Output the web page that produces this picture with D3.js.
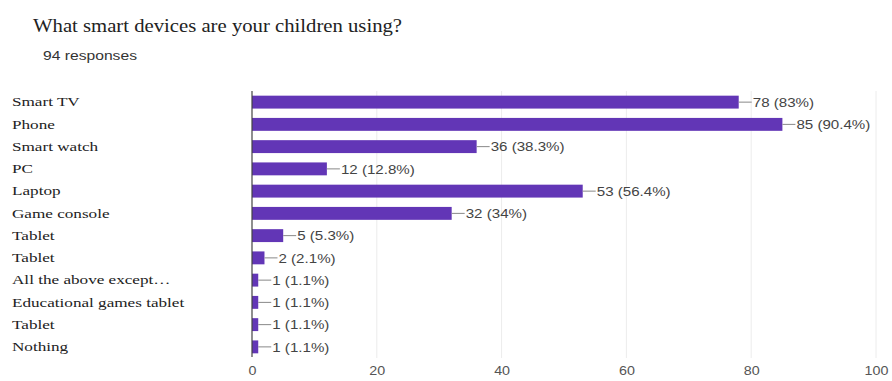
<!DOCTYPE html>
<html>
<head>
<meta charset="utf-8">
<script src="https://cdn.jsdelivr.net/npm/d3@7"></script>
<style>
  html, body { margin: 0; padding: 0; background: #fff; }
  svg { display: block; }
</style>
</head>
<body>
<svg id="chart" width="892" height="381"></svg>
<script>
// Survey answers: devices used by children
const categories = [
  "Smart TV", "Phone", "Smart watch", "PC", "Laptop", "Game console",
  "Tablet", "Tablet", "All the above except…", "Educational games tablet",
  "Tablet", "Nothing"
];
const counts = [78, 85, 36, 12, 53, 32, 5, 2, 1, 1, 1, 1];
const percents = ["83%", "90.4%", "38.3%", "12.8%", "56.4%", "34%", "5.3%", "2.1%", "1.1%", "1.1%", "1.1%", "1.1%"];
const xTicks = [0, 20, 40, 60, 80, 100];
const title = "What smart devices are your children using?";
const subtitle = "94 responses";

const svg = d3.select("#chart");
const margin = { top: 91, bottom: 358, left: 252, right: 876 };
const serif = "'Liberation Serif', 'Times New Roman', serif";
const sans = "'Liberation Sans', Arial, sans-serif";

const rows = categories.map((c, i) => ({ key: i, label: c, value: counts[i], pct: percents[i] }));

const x = d3.scaleLinear().domain([0, 100]).range([margin.left, margin.right]);
const y = d3.scaleBand().domain(rows.map(d => d.key))
  .range([margin.top, margin.bottom]).paddingInner(0.42).paddingOuter(0.21);

// Title and response count (type set slightly wide)
svg.append("text")
  .attr("transform", "translate(33,32) scale(1.12,1)")
  .attr("font-family", serif)
  .attr("font-size", 18.5).attr("fill", "#222")
  .text(title);
svg.append("text")
  .attr("transform", "translate(43,60) scale(1.16,1)")
  .attr("font-family", sans)
  .attr("font-size", 13.5).attr("fill", "#333")
  .text(subtitle);

// Vertical gridlines
svg.append("g").selectAll("line")
  .data(xTicks.filter(t => t > 0))
  .join("line")
  .attr("x1", d => x(d)).attr("x2", d => x(d))
  .attr("y1", margin.top).attr("y2", margin.bottom)
  .attr("stroke", "#ececec").attr("stroke-width", 1);

// X axis tick labels
const xAxis = d3.axisBottom(x).tickValues(xTicks).tickSize(0).tickPadding(0);
const gx = svg.append("g").attr("transform", "translate(0,366)").call(xAxis);
gx.select(".domain").remove();
gx.selectAll("text")
  .attr("font-family", sans)
  .attr("font-size", 13).attr("fill", "#555").attr("dy", "0.71em")
  .attr("transform", "scale(1.1,1)");

// Category labels
const yAxis = d3.axisLeft(y).tickFormat(k => rows[k].label).tickSize(0).tickPadding(0);
const gy = svg.append("g").attr("transform", "translate(12,0)").call(yAxis);
gy.select(".domain").remove();
gy.selectAll("text")
  .attr("x", 0)
  .attr("text-anchor", "start")
  .attr("font-family", serif)
  .attr("font-size", 13.5).attr("fill", "#222")
  .attr("transform", "scale(1.27,1)");

// Bars
svg.append("g").selectAll("rect")
  .data(rows)
  .join("rect")
  .attr("x", x(0))
  .attr("y", d => y(d.key))
  .attr("width", d => x(d.value) - x(0))
  .attr("height", y.bandwidth())
  .attr("fill", "#6236b6");

// Baseline axis
svg.append("line")
  .attr("x1", x(0)).attr("x2", x(0))
  .attr("y1", margin.top).attr("y2", margin.bottom - 1)
  .attr("stroke", "#444").attr("stroke-width", 1.2);

// Leader lines and value labels
const lab = svg.append("g").selectAll("g").data(rows).join("g")
  .attr("transform", d => `translate(${x(d.value)},${y(d.key) + y.bandwidth() / 2})`);
lab.append("line")
  .attr("x1", 0).attr("x2", 13).attr("y1", 0).attr("y2", 0)
  .attr("stroke", "#888").attr("stroke-width", 1);
lab.append("text")
  .attr("transform", "translate(14,0) scale(1.12,1)")
  .attr("dy", "0.36em")
  .attr("font-family", sans)
  .attr("font-size", 13.5).attr("fill", "#444")
  .text(d => `${d.value} (${d.pct})`);
</script>
</body>
</html>
